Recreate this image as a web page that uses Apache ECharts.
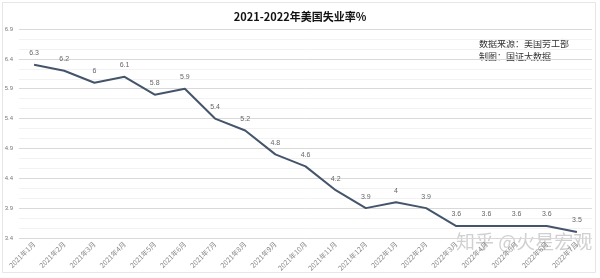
<!DOCTYPE html>
<html><head><meta charset="utf-8">
<script src="https://cdn.jsdelivr.net/npm/echarts@6/dist/echarts.min.js"></script>
<style>html,body{margin:0;padding:0;background:#fff}#c{width:600px;height:278px}</style>
</head><body><div id="c"></div>
<script>
const categories = ['2021年1月','2021年2月','2021年3月','2021年4月','2021年5月','2021年6月','2021年7月','2021年8月','2021年9月','2021年10月','2021年11月','2021年12月','2022年1月','2022年2月','2022年3月','2022年4月','2022年5月','2022年6月','2022年7月'];
const rates = [6.3,6.2,6,6.1,5.8,5.9,5.4,5.2,4.8,4.6,4.2,3.9,4,3.9,3.6,3.6,3.6,3.6,3.5];
const chart = echarts.init(document.getElementById('c'));
chart.setOption({
  backgroundColor:'#fff',
  animation:false,
  title:{text:'2021-2022年美国失业率%',left:'center',top:6,textStyle:{fontSize:11,fontWeight:'bold',color:'#111',fontFamily:'Noto Sans CJK SC'}},
  grid:{left:19,right:8,top:29,bottom:40},
  xAxis:{type:'category',data:categories,boundaryGap:true,
    axisLine:{show:false},axisTick:{show:false},
    axisLabel:{rotate:45,fontSize:7,color:'#888',margin:5,interval:0,fontFamily:'Noto Sans CJK SC'}},
  yAxis:{type:'value',min:3.4,max:6.9,interval:0.5,
    axisLine:{show:false},axisTick:{show:false},
    axisLabel:{fontSize:6,color:'#777',margin:6,formatter:v=>v.toFixed(1).replace(/\.0$/,'')},
    splitLine:{lineStyle:{color:'#d9d9d9',width:1}},
    minorTick:{show:false,splitNumber:3},
    minorSplitLine:{show:true,lineStyle:{color:'#f2f2f2',width:1}}},
  series:[{type:'line',data:rates,symbol:'circle',symbolSize:2,showSymbol:true,showAllSymbol:true,
    itemStyle:{color:'rgba(0,0,0,0)',borderWidth:0},
    lineStyle:{color:'#44546a',width:2},
    label:{show:true,position:'top',distance:7,fontSize:7,color:'#666',opacity:1},
    labelLayout:{hideOverlap:false}}],
  graphic:[
    {type:'rect',left:0,top:0,shape:{width:593,height:270},style:{fill:'none',stroke:'#e6e6e6',lineWidth:1},silent:true},
    {type:'text',left:479,top:37,style:{text:'数据来源：美国劳工部\n制图：国证大数据',font:'9px "Noto Sans CJK SC"',lineHeight:13,fill:'#333'}},
    {type:'text',left:456,top:232,style:{text:'知乎 @火星宏观',font:'19px "Noto Sans CJK SC"',fill:'rgba(150,150,150,0.45)'}}
  ]
});
</script></body></html>
